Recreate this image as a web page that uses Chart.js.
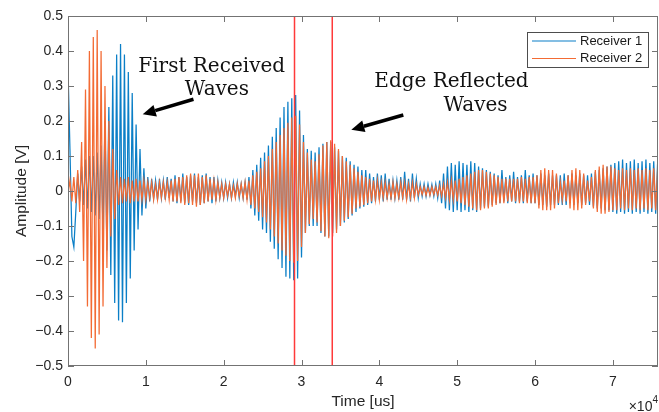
<!DOCTYPE html>
<html lang="en">
<head>
<meta charset="UTF-8">
<title>Receiver signals</title>
<script src="https://cdn.jsdelivr.net/npm/chart.js@4.4.1/dist/chart.umd.min.js"></script>
<style>
  html, body { margin: 0; padding: 0; background: #fff; }
  #wrap { width: 659px; height: 412px; }
</style>
</head>
<body>
<div id="wrap"><canvas id="signalChart" width="659" height="412"></canvas></div>
<script>
const sampleStepUs = 250;

const receiver1 = [
  0.35, 0.12, -0.13, -0.16, -0.06, 0.05, -0.03, 0.07, -0.04, 0.09,
  -0.05, 0.1, -0.06, 0.1, -0.07, 0.11, -0.08, 0.13, -0.12, 0.2,
  -0.17, 0.24, -0.24, 0.33, -0.32, 0.39, -0.37, 0.42, -0.375, 0.39,
  -0.32, 0.34, -0.25, 0.28, -0.17, 0.19, -0.11, 0.12, -0.07, 0.065,
  -0.05, 0.04, -0.03, 0.035, -0.02, 0.03, -0.025, 0.035, -0.02, 0.03,
  -0.025, 0.04, -0.02, 0.035, -0.03, 0.045, -0.035, 0.04, -0.03, 0.05,
  -0.035, 0.04, -0.04, 0.045, -0.03, 0.05, -0.035, 0.04, -0.04, 0.045,
  -0.035, 0.05, -0.03, 0.04, -0.035, 0.04, -0.03, 0.03, -0.02, 0.025,
  -0.02, 0.025, -0.02, 0.02, -0.02, 0.025, -0.015, 0.025, -0.02, 0.02,
  -0.02, 0.025, -0.025, 0.04, -0.05, 0.06, -0.07, 0.075, -0.085, 0.095,
  -0.11, 0.11, -0.12, 0.13, -0.145, 0.155, -0.165, 0.18, -0.195, 0.21,
  -0.22, 0.24, -0.245, 0.255, -0.25, 0.265, -0.255, 0.274, -0.25, 0.23,
  -0.19, 0.16, -0.12, 0.12, -0.1, 0.115, -0.1, 0.11, -0.1, 0.125,
  -0.12, 0.135, -0.13, 0.14, -0.13, 0.14, -0.12, 0.125, -0.11, 0.115,
  -0.1, 0.1, -0.09, 0.095, -0.08, 0.085, -0.07, 0.075, -0.06, 0.07,
  -0.05, 0.06, -0.045, 0.06, -0.04, 0.05, -0.035, 0.04, -0.03, 0.05,
  -0.025, 0.045, -0.03, 0.05, -0.025, 0.035, -0.025, 0.03, -0.02, 0.03,
  -0.025, 0.04, -0.025, 0.055, -0.025, 0.035, -0.03, 0.05, -0.02, 0.035,
  -0.02, 0.02, -0.015, 0.02, -0.015, 0.02, -0.012, 0.018, -0.015, 0.02,
  -0.02, 0.03, -0.035, 0.05, -0.05, 0.07, -0.055, 0.08, -0.06, 0.075,
  -0.055, 0.085, -0.06, 0.08, -0.055, 0.075, -0.06, 0.085, -0.055, 0.08,
  -0.06, 0.07, -0.05, 0.065, -0.045, 0.06, -0.045, 0.055, -0.04, 0.05,
  -0.035, 0.045, -0.035, 0.06, -0.03, 0.04, -0.035, 0.045, -0.03, 0.055,
  -0.035, 0.04, -0.03, 0.045, -0.035, 0.06, -0.03, 0.045, -0.035, 0.05,
  -0.035, 0.045, -0.04, 0.05, -0.04, 0.045, -0.045, 0.05, -0.04, 0.045,
  -0.04, 0.045, -0.04, 0.045, -0.04, 0.05, -0.04, 0.045, -0.035, 0.05,
  -0.04, 0.045, -0.035, 0.05, -0.04, 0.045, -0.035, 0.045, -0.04, 0.05,
  -0.045, 0.055, -0.05, 0.06, -0.05, 0.065, -0.055, 0.07, -0.055, 0.075,
  -0.06, 0.08, -0.065, 0.085, -0.06, 0.09, -0.065, 0.08, -0.06, 0.085,
  -0.065, 0.09, -0.06, 0.08, -0.065, 0.085, -0.06, 0.09, -0.065, 0.08,
  -0.06, 0.085, -0.065, 0.08
];

const receiver2 = [
  -0.01, 0.03, -0.03, 0.04, -0.035, 0.06, -0.06, 0.14, -0.2, 0.29,
  -0.33, 0.4, -0.42, 0.44, -0.45, 0.46, -0.41, 0.4, -0.33, 0.3,
  -0.22, 0.2, -0.13, 0.12, -0.08, 0.06, -0.04, 0.04, -0.035, 0.035,
  -0.03, 0.04, -0.035, 0.03, -0.03, 0.035, -0.03, 0.03, -0.025, 0.03,
  -0.025, 0.025, -0.02, 0.025, -0.025, 0.02, -0.025, 0.025, -0.02, 0.025,
  -0.02, 0.025, -0.025, 0.03, -0.03, 0.035, -0.03, 0.04, -0.035, 0.04,
  -0.04, 0.045, -0.035, 0.05, -0.04, 0.045, -0.045, 0.05, -0.04, 0.04,
  -0.035, 0.045, -0.03, 0.035, -0.025, 0.03, -0.025, 0.025, -0.02, 0.02,
  -0.02, 0.02, -0.015, 0.02, -0.02, 0.015, -0.02, 0.02, -0.015, 0.02,
  -0.02, 0.025, -0.025, 0.03, -0.04, 0.045, -0.05, 0.055, -0.06, 0.065,
  -0.075, 0.085, -0.09, 0.1, -0.11, 0.12, -0.13, 0.14, -0.15, 0.16,
  -0.17, 0.18, -0.185, 0.195, -0.2, 0.21, -0.205, 0.215, -0.2, 0.19,
  -0.16, 0.14, -0.12, 0.11, -0.095, 0.09, -0.08, 0.085, -0.09, 0.105,
  -0.115, 0.13, -0.13, 0.14, -0.135, 0.145, -0.13, 0.135, -0.12, 0.12,
  -0.1, 0.1, -0.085, 0.085, -0.075, 0.075, -0.065, 0.065, -0.05, 0.055,
  -0.045, 0.045, -0.04, 0.04, -0.035, 0.035, -0.03, 0.03, -0.025, 0.03,
  -0.025, 0.025, -0.02, 0.025, -0.02, 0.02, -0.02, 0.025, -0.02, 0.02,
  -0.02, 0.025, -0.02, 0.025, -0.025, 0.02, -0.02, 0.025, -0.02, 0.02,
  -0.012, 0.012, -0.01, 0.012, -0.012, 0.01, -0.012, 0.012, -0.01, 0.012,
  -0.012, 0.015, -0.015, 0.02, -0.02, 0.025, -0.025, 0.03, -0.025, 0.03,
  -0.03, 0.035, -0.035, 0.04, -0.04, 0.045, -0.045, 0.05, -0.05, 0.055,
  -0.055, 0.06, -0.055, 0.06, -0.05, 0.055, -0.05, 0.05, -0.045, 0.045,
  -0.04, 0.04, -0.035, 0.035, -0.035, 0.035, -0.03, 0.035, -0.03, 0.035,
  -0.03, 0.035, -0.035, 0.04, -0.03, 0.035, -0.035, 0.04, -0.035, 0.04,
  -0.035, 0.045, -0.05, 0.06, -0.055, 0.065, -0.055, 0.06, -0.055, 0.06,
  -0.05, 0.05, -0.035, 0.025, -0.025, 0.03, -0.03, 0.045, -0.05, 0.06,
  -0.055, 0.065, -0.055, 0.06, -0.05, 0.05, -0.04, 0.03, -0.03, 0.04,
  -0.05, 0.06, -0.06, 0.07, -0.065, 0.075, -0.065, 0.07, -0.06, 0.07,
  -0.055, 0.065, -0.055, 0.06, -0.05, 0.065, -0.055, 0.06, -0.05, 0.065,
  -0.055, 0.06, -0.05, 0.065, -0.055, 0.06, -0.05, 0.065, -0.055, 0.06,
  -0.05, 0.065, -0.055, 0.06
];

const seriesLabels = ['Receiver 1', 'Receiver 2'];
const markerTimesUs = [29100, 33950];
const xTickValues = [0, 10000, 20000, 30000, 40000, 50000, 60000, 70000];
const yTickValues = [-0.5, -0.4, -0.3, -0.2, -0.1, 0, 0.1, 0.2, 0.3, 0.4, 0.5];
const timeMaxUs = 75800;

// text notes and arrows, anchored in data units
const notes = [
  { text: 'First Received', t: 18460, v: 0.34 },
  { text: 'Waves', t: 19130, v: 0.274 },
  { text: 'Edge Reflected', t: 49270, v: 0.298 },
  { text: 'Waves', t: 52350, v: 0.23 }
];
const arrows = [
  { from: [16120, 0.262], to: [9600, 0.219] },
  { from: [43080, 0.217], to: [36400, 0.175] }
];

const blue = '#0b7fc7';
const orange = '#f36b34';
const axisGrey = '#737373';

const toPoints = vals => vals.map((v, i) => ({ x: i * sampleStepUs, y: v }));

const markerSets = markerTimesUs.map(t => ({
  data: [{ x: t, y: -0.5 }, { x: t, y: 0.5 }],
  borderColor: '#ff3a3a',
  borderWidth: 1.5,
  pointRadius: 0,
  order: 0
}));

const extras = {
  id: 'extras',
  afterDraw(chart) {
    const { ctx, chartArea: a, scales: { x, y } } = chart;
    ctx.save();

    // box + inward ticks like the matlab axes
    ctx.strokeStyle = axisGrey;
    ctx.lineWidth = 1;
    ctx.beginPath();
    x.ticks.forEach(tk => {
      const px = Math.round(x.getPixelForValue(tk.value)) + 0.5;
      ctx.moveTo(px, a.bottom); ctx.lineTo(px, a.bottom - 6);
      ctx.moveTo(px, a.top); ctx.lineTo(px, a.top + 6);
    });
    y.ticks.forEach(tk => {
      const py = Math.round(y.getPixelForValue(tk.value)) + 0.5;
      ctx.moveTo(a.left, py); ctx.lineTo(a.left + 6, py);
      ctx.moveTo(a.right, py); ctx.lineTo(a.right - 6, py);
    });
    ctx.stroke();
    ctx.strokeRect(a.left + 0.5, a.top + 0.5, a.right - a.left - 1, a.bottom - a.top - 1);

    // x10^4 exponent
    ctx.fillStyle = '#262626';
    ctx.textBaseline = 'alphabetic';
    ctx.textAlign = 'right';
    ctx.font = '10px "Liberation Sans", Arial, sans-serif';
    ctx.fillText('4', a.right, 403);
    const w4 = ctx.measureText('4').width;
    ctx.font = '14px "Liberation Sans", Arial, sans-serif';
    ctx.fillText('\u00d710', a.right - w4, 411);

    // legend
    const boxW = 121, boxH = 35;
    const lx = a.right - 10 - boxW, ly = a.top + 16;
    ctx.fillStyle = '#fff';
    ctx.fillRect(lx, ly, boxW, boxH);
    ctx.strokeStyle = '#4d4d4d';
    ctx.strokeRect(lx + 0.5, ly + 0.5, boxW, boxH);
    ctx.font = '13px "Liberation Sans", Arial, sans-serif';
    ctx.textAlign = 'left';
    ctx.textBaseline = 'middle';
    [blue, orange].forEach((c, i) => {
      const ry = ly + 9 + i * 17.5;
      ctx.strokeStyle = c;
      ctx.lineWidth = 1.2;
      ctx.beginPath();
      ctx.moveTo(lx + 5, ry); ctx.lineTo(lx + 49, ry);
      ctx.stroke();
      ctx.fillStyle = '#1a1a1a';
      ctx.fillText(seriesLabels[i], lx + 53, ry);
    });

    // annotations
    ctx.fillStyle = '#111';
    ctx.font = '20px "DejaVu Serif", serif';
    ctx.textAlign = 'center';
    ctx.textBaseline = 'alphabetic';
    notes.forEach(n => ctx.fillText(n.text, x.getPixelForValue(n.t), y.getPixelForValue(n.v)));

    ctx.strokeStyle = '#000';
    ctx.fillStyle = '#000';
    arrows.forEach(ar => {
      const x0 = x.getPixelForValue(ar.from[0]), y0 = y.getPixelForValue(ar.from[1]);
      const x1 = x.getPixelForValue(ar.to[0]), y1 = y.getPixelForValue(ar.to[1]);
      const ang = Math.atan2(y1 - y0, x1 - x0);
      const headLen = 13, headHalf = 6;
      const bx = x1 - headLen * Math.cos(ang), by = y1 - headLen * Math.sin(ang);
      ctx.lineWidth = 3.5;
      ctx.beginPath();
      ctx.moveTo(x0, y0); ctx.lineTo(bx, by);
      ctx.stroke();
      ctx.beginPath();
      ctx.moveTo(x1, y1);
      ctx.lineTo(bx + headHalf * Math.sin(ang), by - headHalf * Math.cos(ang));
      ctx.lineTo(bx - headHalf * Math.sin(ang), by + headHalf * Math.cos(ang));
      ctx.closePath();
      ctx.fill();
    });
    ctx.restore();
  }
};

new Chart(document.getElementById('signalChart'), {
  type: 'line',
  data: {
    datasets: [
      ...markerSets,
      { label: seriesLabels[1], data: toPoints(receiver2), borderColor: orange, borderWidth: 1.25, pointRadius: 0, order: 1 },
      { label: seriesLabels[0], data: toPoints(receiver1), borderColor: blue, borderWidth: 1.25, pointRadius: 0, order: 2 }
    ]
  },
  options: {
    responsive: false,
    animation: false,
    events: [],
    layout: { padding: { top: 16, right: 1, left: 0, bottom: 0 } },
    plugins: { legend: { display: false }, tooltip: { enabled: false } },
    elements: { line: { tension: 0 } },
    scales: {
      x: {
        type: 'linear',
        min: 0,
        max: timeMaxUs,
        afterBuildTicks: s => { s.ticks = xTickValues.map(v => ({ value: v })); },
        afterFit: s => { s.height = 46; },
        grid: { display: false, drawTicks: false },
        border: { display: false },
        ticks: {
          padding: 8,
          color: '#262626',
          font: { family: '"Liberation Sans", Arial, sans-serif', size: 14 },
          callback: v => String(v / 10000)
        },
        title: {
          display: true,
          text: 'Time [us]',
          color: '#262626',
          font: { family: '"Liberation Sans", Arial, sans-serif', size: 15.5 },
          padding: { top: 0, bottom: 1 }
        }
      },
      y: {
        min: -0.5,
        max: 0.5,
        afterBuildTicks: s => { s.ticks = yTickValues.map(v => ({ value: v })); },
        afterFit: s => { s.width = 68; },
        grid: { display: false, drawTicks: false },
        border: { display: false },
        ticks: {
          padding: 5,
          color: '#262626',
          font: { family: '"Liberation Sans", Arial, sans-serif', size: 14 },
          callback: v => Math.abs(v) < 1e-9 ? '0' : (v < 0 ? '\u2212' + Math.abs(v).toFixed(1) : v.toFixed(1))
        },
        title: {
          display: true,
          text: 'Amplitude [V]',
          color: '#262626',
          font: { family: '"Liberation Sans", Arial, sans-serif', size: 15.5 },
          padding: { top: 12.5, bottom: 0 }
        }
      }
    }
  },
  plugins: [extras]
});
</script>
</body>
</html>
